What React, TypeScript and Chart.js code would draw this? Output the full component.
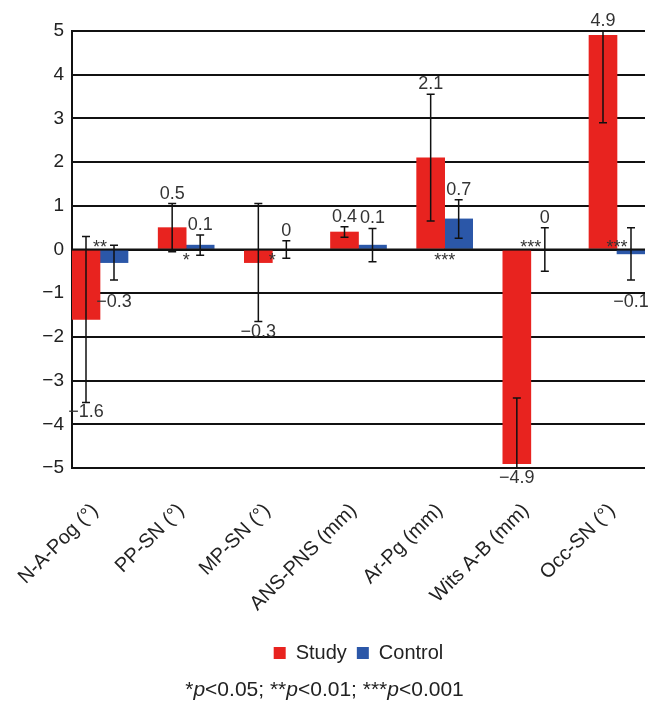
import React, { useEffect, useRef } from 'react';
import { Chart, registerables } from 'chart.js';

Chart.register(...registerables);

const categories = ['N-A-Pog (°)', 'PP-SN (°)', 'MP-SN (°)', 'ANS-PNS (mm)', 'Ar-Pg (mm)', 'Wits A-B (mm)', 'Occ-SN (°)'];
const studyMeans = [-1.6, 0.5, -0.3, 0.4, 2.1, -4.9, 4.9];
const studyErrors = [1.9, 0.55, 1.35, 0.12, 1.45, 1.5, 2.0];
const controlMeans = [-0.3, 0.1, 0, 0.1, 0.7, 0, -0.1];
const controlErrors = [0.4, 0.23, 0.2, 0.38, 0.44, 0.5, 0.6];
const significance = ['**', '*', '*', '', '***', '***', '***'];
const significanceAbove = [true, false, false, false, false, true, true];
const yTicks = [-5, -4, -3, -2, -1, 0, 1, 2, 3, 4, 5];
const footnote: [string, boolean][] = [
  ['*', false], ['p', true], ['<0.05; ', false],
  ['**', false], ['p', true], ['<0.01; ', false],
  ['***', false], ['p', true], ['<0.001', false],
];

const FAMILY = '"Liberation Sans", Arial, Helvetica, sans-serif';
const RED = '#e8231f';
const BLUE = '#2b57a8';

const fmtSigned = (v: number, digits: number) => {
  if (v === 0) return '0';
  const s = Math.abs(v).toFixed(digits);
  return v < 0 ? '\u2212' + s : s;
};

const annotate = {
  id: 'annotate',
  afterDatasetsDraw(chart: any) {
    const { ctx, chartArea: ca, scales } = chart;
    const y = scales.y;
    const errs = [studyErrors, controlErrors];
    const means = [studyMeans, controlMeans];
    const zero = y.getPixelForValue(0);

    // error bars (clipped to plot area)
    ctx.save();
    ctx.beginPath();
    ctx.rect(ca.left, ca.top - 1, ca.right - ca.left, ca.bottom - ca.top + 2);
    ctx.clip();
    ctx.strokeStyle = '#111';
    ctx.lineWidth = 1.5;
    means.forEach((arr, di) => {
      const meta = chart.getDatasetMeta(di);
      arr.forEach((v, i) => {
        const bar = meta.data[i];
        const e = errs[di][i];
        const yt = y.getPixelForValue(v + e);
        const yb = y.getPixelForValue(v - e);
        const x = bar.x;
        ctx.beginPath();
        ctx.moveTo(x, yt); ctx.lineTo(x, yb);
        ctx.moveTo(x - 4, yt); ctx.lineTo(x + 4, yt);
        ctx.moveTo(x - 4, yb); ctx.lineTo(x + 4, yb);
        ctx.stroke();
      });
    });
    // zero line on top
    ctx.strokeStyle = '#111';
    ctx.lineWidth = 2;
    ctx.beginPath();
    ctx.moveTo(ca.left, zero);
    ctx.lineTo(ca.right, zero);
    ctx.stroke();
    ctx.restore();

    // value labels
    ctx.save();
    ctx.font = `18px ${FAMILY}`;
    ctx.fillStyle = '#333';
    ctx.textAlign = 'center';
    ctx.textBaseline = 'middle';
    const gridPx = yTicks.map((t) => y.getPixelForValue(t));
    means.forEach((arr, di) => {
      const meta = chart.getDatasetMeta(di);
      arr.forEach((v, i) => {
        const bar = meta.data[i];
        const e = errs[di][i];
        let ly: number;
        if (v >= 0) {
          ly = Math.max(ca.top, y.getPixelForValue(v + e)) - 10;
        } else {
          ly = Math.min(ca.bottom, y.getPixelForValue(v - e)) + 10;
          const hit = gridPx.find((g) => Math.abs(g - ly) < 5);
          if (hit !== undefined) ly = hit + 9;
        }
        ctx.fillText(fmtSigned(v, 1), bar.x, ly);
      });
    });
    // significance stars
    ctx.textBaseline = 'alphabetic';
    const m0 = chart.getDatasetMeta(0);
    const m1 = chart.getDatasetMeta(1);
    significance.forEach((s, i) => {
      if (!s) return;
      const cx = (m0.data[i].x + m1.data[i].x) / 2;
      const sy = significanceAbove[i] ? zero + 3 : zero + 16;
      ctx.fillText(s, cx, sy);
    });
    ctx.restore();
  },
  afterDraw(chart: any) {
    const { ctx, width } = chart;
    ctx.save();
    ctx.fillStyle = '#222';
    ctx.textBaseline = 'middle';
    ctx.textAlign = 'left';
    const fontFor = (it: boolean) => `${it ? 'italic ' : ''}21px ${FAMILY}`;
    let total = 0;
    footnote.forEach(([t, it]) => {
      ctx.font = fontFor(it);
      total += ctx.measureText(t).width;
    });
    let x = width / 2 - total / 2;
    footnote.forEach(([t, it]) => {
      ctx.font = fontFor(it);
      ctx.fillText(t, x, 690);
      x += ctx.measureText(t).width;
    });
    ctx.restore();
  },
};

export default function App() {
  const ref = useRef<HTMLCanvasElement>(null);
  useEffect(() => {
    const chart = new Chart(ref.current as HTMLCanvasElement, {
      type: 'bar',
      data: {
        datasets: [
          {
            label: 'Study',
            data: studyMeans.map((v, i) => ({ x: i, y: v })),
            backgroundColor: RED,
            borderWidth: 0,
            barThickness: 28,
          },
          {
            label: 'Control',
            data: controlMeans.map((v, i) => ({ x: i, y: v })),
            backgroundColor: BLUE,
            borderWidth: 0,
            barThickness: 28,
          },
        ],
      } as any,
      options: {
        responsive: false,
        animation: false,
        devicePixelRatio: 1,
        layout: { padding: { top: 31, left: 8, right: 4, bottom: 32 } },
        scales: {
          x: {
            type: 'linear',
            offset: false,
            min: -0.325,
            max: 6.325,
            grid: { display: false, drawTicks: false },
            border: { display: false },
            afterBuildTicks: (s: any) => {
              s.ticks = categories.map((_, i) => ({ value: i }));
            },
            afterFit: (s: any) => {
              s.height = 165;
              s.paddingLeft = 0;
              s.paddingRight = 0;
            },
            ticks: {
              autoSkip: false,
              minRotation: 45,
              maxRotation: 45,
              padding: 31,
              labelOffset: -5,
              color: '#222',
              font: { family: FAMILY, size: 20 },
              callback: (v: any) => categories[v] ?? '',
            },
          },
          y: {
            min: -5,
            max: 5,
            afterBuildTicks: (s: any) => {
              s.ticks = yTicks.map((v) => ({ value: v }));
            },
            afterFit: (s: any) => {
              s.width = 64;
            },
            grid: { color: '#111', lineWidth: 2, drawTicks: false },
            border: { display: true, color: '#111', width: 2 },
            ticks: {
              padding: 8,
              color: '#222',
              font: { family: FAMILY, size: 19 },
              callback: (v: any) => fmtSigned(Number(v), 0),
            },
          },
        },
        plugins: {
          legend: {
            position: 'bottom',
            fullSize: false,
            labels: {
              boxWidth: 12,
              boxHeight: 12,
              padding: 10,
              color: '#222',
              font: { family: FAMILY, size: 20 },
            },
          },
          tooltip: { enabled: false },
        },
      } as any,
      plugins: [annotate],
    });
    return () => chart.destroy();
  }, []);
  return (
    <div style={{ position: 'fixed', left: 0, top: 0, width: 649, height: 705, background: '#fff' }}>
      <canvas ref={ref} width={649} height={705} style={{ display: 'block', width: 649, height: 705 }} />
    </div>
  );
}
